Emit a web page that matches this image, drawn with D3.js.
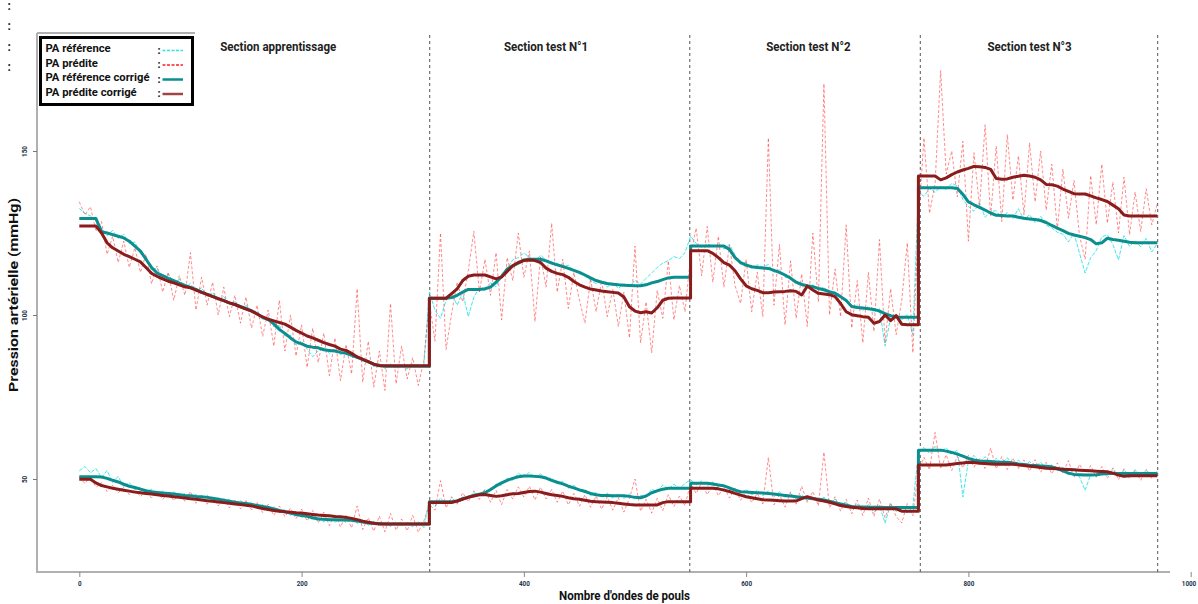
<!DOCTYPE html>
<html><head><meta charset="utf-8">
<script src="https://cdn.jsdelivr.net/npm/d3@7"></script>
<style>body{margin:0;background:#fff}svg{display:block}</style>
</head><body>
<svg id="c" width="1198" height="604"></svg>
<script>
// ---------- data ----------
const sectionStarts = [0, 315, 550, 755];          // first sample index of each section (step 5)
const sectionBounds = [315.3, 549.3, 756.7, 970.3];
const sectionTitles = ["Section apprentissage", "Section test N°1", "Section test N°2", "Section test N°3"];
const sectionTitleX = [179, 420, 656, 855];
const xTicks = [0, 200, 400, 600, 800, 1000];
const yTicks = [50, 100, 150];
const legendLabels = ["PA référence", "PA prédite", "PA référence corrigé", "PA prédite corrigé"];

// systolic
const sysRefRaw = [
 [132.5,131,130.2,128.8,126.5,124.2,125.8,123.4,124.6,121.8,122.3,118.6,117.8,113.6,114.4,111.3,112.6,109.8,110.9,108.2,109.6,107.1,108.3,105.6,106.9,104.2,105.6,103.1,104.2,101.8,103,100.6,101.2,98.5,99.6,96.4,96.8,93.6,93.9,90.8,92.1,89.6,87.3,89.1,90.2,88.3,89.6,87.9,88.9,86.9,87.8,85.6,86.4,84.2,85.3,83.6,85.1,83.8,84.9,83.5,85.2,83.9,84.8],
 [107,101.5,99,104.5,106.5,103,106.8,99.5,105.5,108.2,107.4,109.8,108.6,112.5,114.2,116.8,117.5,118.9,117.6,116.5,118.2,116.8,116.2,115.8,114.6,115.2,113.5,112.6,111.8,110.5,109.6,110.3,108.5,109.8,108.1,109.5,108.6,110.6,109.4,111.2,112.8,114.5,115.8,116.6,117.8,117.2,119],
 [124,121.8,120.6,121.7,120.9,121.3,120.2,121.5,118.3,115.5,116.1,114.2,115.3,114.6,115.4,113,113.8,111.5,111.6,109.4,109.8,108.4,109.2,107.6,108.5,106.5,107.2,105.1,104.8,102.2,103.1,101.4,102.6,100.8,101.9,90.5,99.2,100.3,98.6,100.1,94],
 [137.5,136.2,138.6,137.4,139.2,138.3,140.1,139.4,135.2,133.1,131.6,134.2,129.8,131.5,131.8,129.6,131.2,129.4,132.4,129,130.6,128.2,130.1,127.3,126.6,125.2,124.6,122.3,124.9,118.8,112.8,117.5,119.6,123.8,124.5,121.5,116.8,124.2,120.9,122.6,120.8,123.4,119.2,121.8]
];
const sysPredRaw = [
 [134.5,130.5,133,125.5,128.5,118.5,124,116,122.5,114.5,120.5,113,118.5,109.5,115,107,113,104.5,112,106,119,101.5,111.5,103,110,100,108.5,99.5,106,97.5,105.5,96,103,93.5,101.5,90.5,104.5,89,100,87.5,97,84,96,85.5,94.5,81.5,93,80,91,82,108,79.5,92,78,89,77,103.5,79,90.5,80.5,87,78.5,86],
 [104,92,125,89.5,100.5,110,104,113.5,125.5,107,117,106,119,98.5,117.5,110.5,125,111.5,119.5,98,118,108.5,128,107,117,102,113,104.5,97.5,111,101,110.5,99.5,108,96.5,107,93,121,91.5,104,88.5,107.5,99,116.5,98.5,109,101],
 [118,126.5,112,127,110,124,108.5,121.5,109,103.5,117,101,113,99.5,154,103,121.5,97,116.5,99,112.5,96.5,125,104,170.5,100,114,99.5,127.5,96,110.5,91.5,113,95,123,91.5,108,94,104.5,122,88.5],
 [128,154,131,140,174.5,143,150,136,153,122.5,149.5,133,158,130,151.5,128.5,155,135,148.5,130.5,152.5,134.5,150,132,146,126,144.5,129.5,141,124,117,142.5,127.5,146,128,140.5,125,142,124.5,137.5,125.5,138.5,127.5,134]
];
const sysRefCorr = [
 [129.4,129.4,129.4,129.4,125.4,125,124.5,124,123.5,122.5,121,119.5,117,114.5,112.8,112,111.2,110.5,109.7,109,108.4,107.8,107,106.3,105.7,105,104.4,103.7,103.2,102.6,102,101.3,100.3,99.3,98.6,97.3,95.6,94.4,93,91.8,91.2,90.5,90.2,90,89.4,89.2,89,88.6,88.3,87.8,87.1,86.5,85.7,85,84.5,84.4,84.4,84.4,84.4,84.4,84.4,84.4,84.4],
 [105.1,105.1,105.1,105.1,105.3,106,107,107.8,107.8,107.8,108,108.5,110,111.7,114,115,115.8,116.8,117,117,117,116.5,115.8,115.3,114.8,114.2,113.6,113,112.2,111.3,110.5,110,109.6,109.4,109.2,109.1,109,108.9,108.9,109.2,109.8,110.2,110.8,111.3,111.5,111.5,111.5],
 [121,121,121,121,121,121,121,120,117.5,116,115.2,114.7,114.5,114.3,114.2,113.6,113,112.2,111.2,110,109.3,108.9,108.6,108.1,107.7,107.1,106.6,105.6,104.4,102.6,102.3,102.1,101.9,101.7,101.2,100.4,99.8,99.4,99.3,99.3,99.3],
 [138.8,138.8,138.8,138.8,138.8,138.8,138.8,138.6,136.8,134.5,133.6,132.8,132,131.1,130.4,130.3,130.2,130.2,129.8,129.5,129.3,129.1,128.8,128.2,127.3,126.5,125.7,124.9,124.4,124,123.6,123,121.7,122,123.4,123,122.8,122.5,122.2,122,122,122,122,122]
];
const sysPredCorr = [
 [127.1,127.1,127.1,127.1,125,122,120.5,119.5,118.5,117.8,117,116.2,114.5,112.7,111.8,111,110.3,109.8,109.2,108.6,108.3,107.6,106.9,106.3,105.6,105,104.4,103.7,103.2,102.5,101.8,101.2,100.3,99.4,98.7,98.2,97.7,97.2,96.3,95.3,94.5,93.6,93,92.3,91.6,91,90.5,89.6,89.2,88.3,87.2,86.5,85.8,85,84.6,84.5,84.5,84.5,84.5,84.5,84.5,84.5,84.5],
 [105.1,105.1,105.1,105.1,106.5,108,110.5,111.8,112.2,112.2,112.2,111.6,111,111.6,113.3,115,116,116.6,116.8,116.6,116,114.3,113.3,112.7,112.3,111.5,110.2,109.2,108.5,107.9,107.6,107.3,107.1,106.9,106.7,105.5,102.5,101.2,100.7,101,100.6,102.2,104.5,105.1,105.2,105.2,105.2],
 [119.6,119.6,119.6,119.6,118.8,117.5,116,115.2,113.5,111,108.9,108,107.5,106.8,106.8,107,107.1,107.2,107.4,107.2,106.1,108.8,107.6,106.6,106.4,106.2,105.6,103.5,101,100.1,99.8,99.5,99.3,97.5,98,100,98.3,99.8,97.2,97,97],
 [142.4,142.4,142.4,142.4,141.2,141.8,142.8,143.6,144.2,144.7,145.3,145.2,145,144.4,141.6,141.4,141.5,142,142.3,142.6,142.4,142,141.2,139.8,139.7,139.3,138.4,137.7,137,136.9,136.9,136.3,135.7,135.2,134.6,133.5,132.4,130.5,130.2,130.2,130.2,130.2,130.2,130.2]
];

// diastolic
const diaRefRaw = [
 [52.5,53.8,51.9,53.2,50.4,52.6,48.9,50.8,47.6,48.9,46.8,47.6,45.8,46.9,45.1,46.4,44.6,46.2,44.5,45.6,43.9,45.3,43.8,45.1,43.2,44.5,42.9,43.8,42.1,43.4,41.8,43,41.1,42.2,40.6,41.6,39.7,40.8,38.9,40.1,38.2,39.4,37.4,38.6,36.9,38.3,36.8,38.1,36.7,38.2,36.4,37.6,35.9,37.1,35.6,36.9,35.5,37,35.7,36.8,35.4,37.1,35.2],
 [43.5,41.6,44.2,42.4,44.1,42.8,44.6,43.9,45.8,44.9,46.7,46.1,48.5,48.1,50.3,49.6,51.8,50.6,52.1,50.4,51.6,49.8,50.4,48.5,49.3,47.2,48.1,46.1,46.9,45,45.9,44.4,45.7,44.2,45.6,44.1,45.4,43.8,45,44.6,46.9,46.1,48.2,46.9,48.4,47.1,48.6],
 [49.8,48.2,49.4,47.9,49.1,47.6,48.4,46.8,47.2,45.4,46.8,45.1,46.6,44.9,46.4,44.6,46.1,44.2,45.6,43.9,45.3,43.4,44.8,43.1,44.5,42.5,43.9,41.8,42.9,40.6,42.3,40.4,42.2,39.8,41.9,36.5,42.4,40.1,41.9,39.7,41.6],
 [58.2,59.6,57.8,59.9,58.4,59.5,57.6,58.8,44.5,55.6,57.2,55.1,56.8,54.7,56.3,54.8,56.5,54.2,55.8,53.6,55.3,53.8,55.1,53.2,54.4,52.5,53.6,51.2,52.9,50.6,46.5,51.4,50.6,52.8,51.1,52.9,51.3,52.6,50.9,52.8,51.2,52.5,51.4,52.3]
];
const diaPredRaw = [
 [50.5,48.6,50.8,47.5,48.9,46.2,48.1,45.8,47.5,45.2,46.9,44.6,46.5,44.2,46.1,43.8,45.9,43.4,45.6,43.2,46.2,42.6,44.9,42.3,44.5,41.8,44.1,41.2,43.6,40.9,43.4,40.6,42.8,39.8,42.3,38.9,41.8,38.5,41.1,37.9,40.8,37.2,40.4,36.6,39.9,35.8,39.3,35.4,38.9,35.1,41.8,34.6,38.2,34.1,38.7,33.9,39.5,34.4,37.8,34.2,38.9,33.8,37.2],
 [42.3,40.5,49.5,41.2,44.6,42.3,45.8,43.1,46.4,43.8,46.9,42.9,46.5,42.2,46.8,43.9,47.6,44.5,47.8,43.6,47.5,43.9,46.8,42.9,46.3,42.1,45.6,41.7,45.2,41.4,44.8,40.8,44.6,40.5,44.3,39.9,44.1,50,40.2,43.8,39.6,44.1,40.4,45.2,41.6,44.8,41.9],
 [48.8,45.6,48.9,45.2,48.4,44.9,47.6,44.2,47.1,43.5,46.2,42.8,45.6,42.4,56.6,42.1,45.2,41.4,46.1,42.3,47.8,42.9,46.2,41.8,58.2,41.2,44.6,40.2,43.8,39.4,43.6,38.9,44.2,38.6,43.9,38.2,42.8,38.5,36.6,42.5,38.8],
 [52.5,56.6,52.8,64.2,53.1,57.4,52.6,56.9,53.4,57.2,53.6,56.2,53.2,59.4,53.1,56.8,52.9,56.4,53.2,55.8,52.4,55.9,52.1,55.1,51.6,54.9,51.8,55.6,50.4,54.5,51.2,54.1,50.6,53.8,50.2,53.4,49.8,53.1,50.1,52.7,49.6,52.9,50.2,52.1]
];
const diaRefCorr = [
 [50.7,50.7,50.7,50.7,50.6,50.2,49.6,49.1,48.4,47.8,47.4,46.9,46.4,46.1,45.9,45.7,45.6,45.4,45.2,45,44.9,44.7,44.6,44.4,44.1,43.8,43.5,43.2,42.9,42.7,42.5,42.2,41.9,41.6,41.3,40.9,40.4,40,39.6,39.2,38.9,38.6,38.2,37.8,37.7,37.6,37.6,37.5,37.5,37.4,37.2,36.9,36.6,36.5,36.4,36.3,36.3,36.3,36.3,36.3,36.3,36.3,36.3],
 [43.1,43.1,43.1,43.1,43.1,43.3,43.9,44.5,45,45.4,45.8,46.8,47.9,48.8,49.6,50.2,50.7,50.9,50.9,50.8,50.7,50.3,49.6,49,48.5,47.8,47.3,46.7,46.2,45.6,45.2,45,45,44.9,44.9,44.9,44.7,44.4,44.3,44.8,45.8,46.4,46.9,47.2,47.2,47.2,47.2],
 [48.7,48.7,48.7,48.7,48.5,48.2,47.9,47.3,46.6,46.1,46,45.9,45.8,45.7,45.6,45.4,45.2,45,44.8,44.6,44.4,44.2,44,43.8,43.6,43.2,42.8,42.4,42,41.6,41.5,41.5,41.4,41.4,41.4,41.3,41.3,41.3,41.3,41.3,41.3],
 [58.8,58.8,58.8,58.8,58.8,58.5,58.1,57.6,57,56.3,55.8,55.5,55.4,55.3,55.2,55.1,55.1,54.9,54.6,54.4,54.2,54.1,54,53.9,53.7,53.2,52.5,51.8,51.4,51.3,51.2,51.2,51.3,51.5,51.7,51.7,51.7,51.7,51.7,51.7,51.7,51.7,51.7,51.7]
];
const diaPredCorr = [
 [49.9,49.9,49.9,48.8,48,47.6,47.2,46.9,46.6,46.3,46,45.8,45.6,45.4,45.2,45,44.8,44.6,44.4,44.2,44,43.8,43.6,43.4,43.2,43,42.8,42.6,42.4,42.2,42,41.8,41.4,41,40.7,40.4,40.2,40,39.9,39.7,39.6,39.4,39.2,39,38.9,38.8,38.6,38.5,38.3,38,37.6,37.1,36.8,36.5,36.3,36.3,36.3,36.3,36.3,36.3,36.3,36.3,36.3],
 [42.8,42.8,42.8,42.8,42.8,43.3,43.9,44.4,44.8,45.2,45.3,45,44.7,44.9,45.2,45.5,45.6,45.9,46.2,46.3,46,45.6,45.2,45,44.7,44.3,44,43.8,43.5,43.2,43.1,43,42.9,42.8,42.6,42.4,42.2,42.1,42.1,42.1,42.1,42.1,42.8,43.1,43.1,43.1,43.1],
 [47.2,47.2,47.2,47.2,47.2,47,46.6,46.2,45.6,45.1,44.6,44.3,44,43.7,43.6,43.5,43.4,43.3,43.3,43.3,44,44.6,44.1,43.6,43.3,42.9,42.4,41.9,41.6,41.4,41.2,41,40.9,40.9,40.9,40.9,40.9,40.9,40.2,40.2,40.2],
 [54.3,54.3,54.3,54.3,54.3,54.3,54.5,54.7,54.9,55.1,55,54.8,54.7,54.6,54.5,54.5,54.5,54.5,54.3,54.1,53.9,53.7,53.5,53.3,53.2,53.1,53,52.9,52.8,52.7,52.6,52.5,52.4,52.3,52.2,51.8,51.2,50.8,51,51,51,51,51,51]
];

// ---------- drawing ----------
const svg = d3.select("#c");
const FONT = "Roboto,'Liberation Sans',sans-serif";
const x = d3.scaleLinear().domain([0, 1000]).range([79.3, 1190.7]);
const y = d3.scaleLinear().domain([50, 150]).range([479, 151]);

// squeeze a group of texts horizontally so that the reference text gets the target width
function squeeze(sel, refNode, target) {
  const k = target / refNode.getComputedTextLength();
  sel.each(function () {
    const w = this.getComputedTextLength();
    d3.select(this).attr("textLength", w * k).attr("lengthAdjust", "spacingAndGlyphs");
  });
}

function toPoints(sections) {
  const pts = [];
  sections.forEach((arr, k) => arr.forEach((v, i) => pts.push({s: sectionStarts[k] + 5 * i, v})));
  return pts;
}
// corrected series: hold the last value up to the section boundary, then jump vertically
function toPointsCorr(sections) {
  const pts = [];
  sections.forEach((arr, k) => {
    if (k > 0) pts.push({s: sectionStarts[k], v: sections[k - 1][sections[k - 1].length - 1]});
    arr.forEach((v, i) => pts.push({s: sectionStarts[k] + 5 * i, v}));
  });
  return pts;
}

// top-left colons
[10, 30, 51, 71].forEach(yy => svg.append("text").attr("x", 7.5).attr("y", yy)
  .attr("font-family", FONT).attr("font-weight", "bold").attr("font-size", 12).attr("fill", "#1e1a1a").text(":"));

// axes lines
svg.append("line").attr("x1", 37).attr("x2", 37).attr("y1", 33).attr("y2", 572).attr("stroke", "#b0b0b0").attr("stroke-width", 2);
svg.append("line").attr("x1", 36).attr("x2", 1170).attr("y1", 572).attr("y2", 572).attr("stroke", "#b0b0b0").attr("stroke-width", 2);
svg.append("line").attr("x1", 37).attr("x2", 195).attr("y1", 33).attr("y2", 33).attr("stroke", "#b0b0b0").attr("stroke-width", 2);

const gx = svg.append("g").attr("transform", "translate(0,572)")
  .call(d3.axisBottom(x).tickValues(xTicks).tickSize(5).tickPadding(4).tickFormat(d3.format("d")));
gx.select(".domain").remove();
gx.selectAll(".tick line").attr("stroke", "#888").attr("stroke-width", 1);
const xtt = gx.selectAll(".tick text").attr("font-family", FONT).attr("font-size", 7.5).attr("font-weight", "bold").attr("fill", "#22324a");
squeeze(xtt, xtt.nodes()[1], 10.8);
gx.selectAll(".tick text").filter(d => d === 1000).attr("text-anchor", "end").attr("x", 5);

const gy = svg.append("g").attr("transform", "translate(37,0)")
  .call(d3.axisLeft(y).tickValues(yTicks).tickSize(4));
gy.select(".domain").remove();
gy.selectAll(".tick line").attr("stroke", "#777").attr("stroke-width", 1);
const ytt = gy.selectAll(".tick text").attr("x", 0).attr("dy", 0).attr("text-anchor", "middle")
  .attr("dominant-baseline", "middle").attr("transform", "translate(-11.5,0) rotate(-90)")
  .attr("font-family", FONT).attr("font-size", 7.5).attr("font-weight", "bold").attr("fill", "#22324a");
squeeze(ytt, ytt.nodes()[1], 10.8);

// section separators
svg.append("g").selectAll("line").data(sectionBounds).join("line")
  .attr("x1", d => x(d)).attr("x2", d => x(d)).attr("y1", 35).attr("y2", 572)
  .attr("stroke", "#555").attr("stroke-width", 1).attr("stroke-dasharray", "3,3");

// section titles
const tt = svg.append("g").selectAll("text").data(sectionTitles).join("text")
  .attr("x", (d, i) => x(sectionTitleX[i])).attr("y", 51).attr("text-anchor", "middle")
  .attr("font-family", FONT).attr("font-weight", "bold").attr("font-size", 12).attr("fill", "#222").text(d => d);
squeeze(tt, tt.nodes()[0], 116);

// series
const layers = [
  {data: [sysRefRaw, diaRefRaw], pts: toPoints, stroke: "#2fe3e8", w: 1, dash: "4,1.5", op: 0.9},
  {data: [sysPredRaw, diaPredRaw], pts: toPoints, stroke: "#ff2e2e", w: 1, dash: "3,2", op: 0.55},
  {data: [sysRefCorr, diaRefCorr], pts: toPointsCorr, stroke: "#0b8e8e", w: 3, dash: null, op: 1},
  {data: [sysPredCorr, diaPredCorr], pts: toPointsCorr, stroke: "#8b1c1c", w: 3, dash: null, op: 1}
];
const line = d3.line().x(d => x(d.s)).y(d => y(d.v));
layers.forEach(L => L.data.forEach(sec => {
  svg.append("path").attr("d", line(L.pts(sec))).attr("fill", "none")
    .attr("stroke", L.stroke).attr("stroke-width", L.w).attr("stroke-opacity", L.op)
    .attr("stroke-dasharray", L.dash).attr("stroke-linejoin", "round");
}));

// legend
const lg = svg.append("g");
lg.append("rect").attr("x", 40.5).attr("y", 37.5).attr("width", 152).attr("height", 67)
  .attr("fill", "#fff").attr("stroke", "#000").attr("stroke-width", 3);
const legStyles = [
  {stroke: "#2fe3e8", w: 1.5, dash: "3,1.5"},
  {stroke: "#ff2020", w: 1.5, dash: "3,1.5"},
  {stroke: "#0b8e8e", w: 2.5, dash: null},
  {stroke: "#a04545", w: 2.5, dash: null}
];
const legY = [52, 66.5, 81, 95.5];
const lt = lg.selectAll("text.lab").data(legendLabels).join("text").attr("class", "lab")
  .attr("x", 45.5).attr("y", (d, i) => legY[i]).attr("font-family", FONT).attr("font-weight", "bold")
  .attr("font-size", 11.5).attr("fill", "#111").text(d => d);
squeeze(lt, lt.nodes()[2], 104);
legendLabels.forEach((t, i) => {
  lg.append("text").attr("x", 157.5).attr("y", legY[i] + 1.5).attr("font-family", FONT).attr("font-weight", "bold")
    .attr("font-size", 11).attr("fill", "#111").text(":");
  lg.append("line").attr("x1", 162.5).attr("x2", 183).attr("y1", legY[i] - 1.5).attr("y2", legY[i] - 1.5)
    .attr("stroke", legStyles[i].stroke).attr("stroke-width", legStyles[i].w).attr("stroke-dasharray", legStyles[i].dash);
});

// axis titles
const xt = svg.append("text").attr("x", 624.5).attr("y", 600).attr("text-anchor", "middle")
  .attr("font-family", FONT).attr("font-weight", "bold").attr("font-size", 13).attr("fill", "#111")
  .text("Nombre d'ondes de pouls");
squeeze(xt, xt.node(), 131);
const yt = svg.append("text").attr("transform", "translate(18,295) rotate(-90)").attr("text-anchor", "middle")
  .attr("font-family", FONT).attr("font-weight", "bold").attr("font-size", 13).attr("fill", "#111")
  .text("Pression artérielle (mmHg)");
squeeze(yt, yt.node(), 194);
</script>
</body></html>
